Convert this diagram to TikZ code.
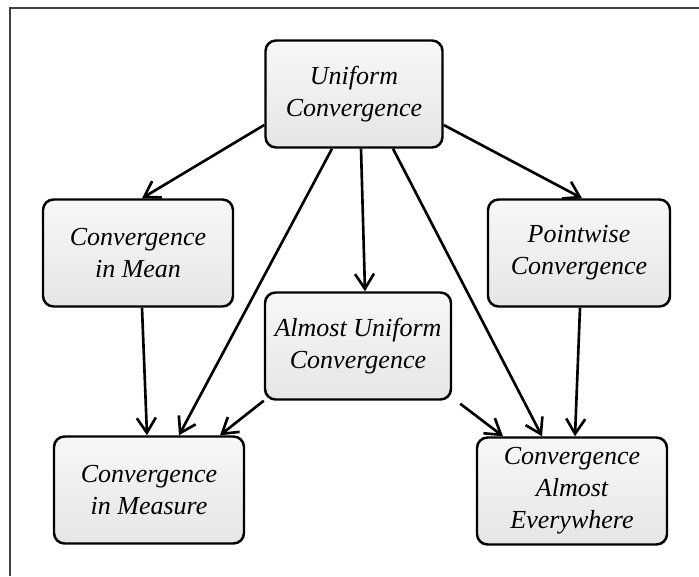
\documentclass[tikz,border=0pt]{standalone}
\usepackage{fontspec}
\setmainfont{Liberation Serif}
\usetikzlibrary{arrows.meta, calc, positioning}

\begin{document}
\begin{tikzpicture}[
    font=\fontsize{14.8}{18.2}\selectfont\itshape,
    mode/.style={
        draw=black, line width=1.4pt, rounded corners=6pt,
        top color=gray!6, bottom color=gray!20,
        minimum width=3.8cm, minimum height=2.14cm,
        align=center, text=black
    },
    implies/.style={
        -{Straight Barb[length=3mm, width=3.8mm, line width=1.5pt]},
        line width=1.5pt, black
    }
]
\useasboundingbox (0,0) rectangle (13.98,11.52);

% partial frame
\draw[line width=1.3pt, black!75] (0.2,0) -- (0.2,11.36) -- (13.98,11.36);

\node[mode, minimum width=3.54cm] (uni) at (7.08,9.64)
    {Uniform\\Convergence};
\node[mode] (mean) at (2.76,6.46)
    {Convergence\\in Mean};
\node[mode, minimum width=3.64cm] (point) at (11.58,6.46)
    {Pointwise\\Convergence};
\node[mode, minimum width=3.72cm] (almost) at (7.16,4.60)
    {Almost Uniform\\Convergence};
\node[mode] (meas) at (2.98,1.72)
    {Convergence\\in Measure};
\node[mode] (ae) at (11.44,1.70)
    {Convergence\\Almost\\Everywhere};

\draw[implies] ([yshift=-6.2mm]uni.west) -- ([xshift=0.8mm]mean.north);
\draw[implies] ([yshift=-6.2mm]uni.east) -- ([xshift=0.6mm]point.north);
\draw[implies] ([xshift=-4.4mm]uni.south) -- ([xshift=6mm]meas.north);
\draw[implies] ([xshift=1.4mm]uni.south) -- ([xshift=1.4mm]almost.north);
\draw[implies] ([xshift=7.8mm]uni.south) -- ([xshift=-6mm]ae.north);

\draw[implies] ([xshift=0.8mm]mean.south) -- ([xshift=-0.4mm]meas.north);
\draw[implies] ([xshift=0.2mm]point.south) -- ([xshift=0.6mm]ae.north);
\draw[implies] (almost.south west) -- ([xshift=14.2mm]meas.north);
\draw[implies] ([xshift=1.6mm,yshift=-0.6mm]almost.south east) -- ([xshift=-13.8mm]ae.north);
\end{tikzpicture}
\end{document}
